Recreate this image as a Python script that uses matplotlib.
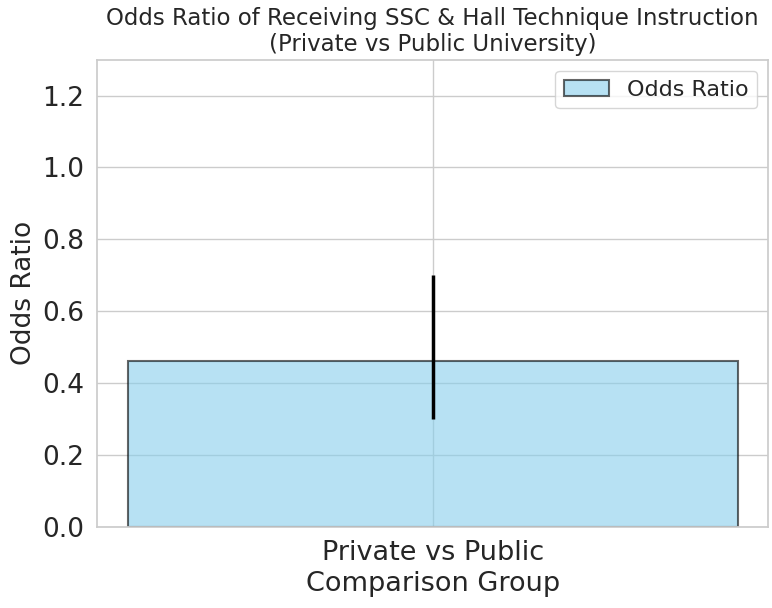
import matplotlib
matplotlib.use("Agg")
import matplotlib.pyplot as plt
import seaborn as sns

# data
groups = ["Private vs Public"]
odds_ratio = [0.46]
ci_low = [0.30]
ci_high = [0.70]

sns.set_theme(style="whitegrid")
plt.rcParams["font.family"] = ["DejaVu Sans"]

fig, ax = plt.subplots(figsize=(7.72, 6.08), dpi=100)
fig.subplots_adjust(left=0.126, right=0.995, top=0.902, bottom=0.134)

yerr = [[o - l for o, l in zip(odds_ratio, ci_low)],
        [h - o for o, h in zip(odds_ratio, ci_high)]]
ax.bar(groups, odds_ratio, color="skyblue", alpha=0.6, edgecolor="black",
       linewidth=1.5, label="Odds Ratio")
ax.errorbar(groups, odds_ratio, yerr=yerr, fmt="none", ecolor="black",
            elinewidth=2.5, capsize=0)

ax.set_ylim(0, 1.3)
ax.set_ylabel("Odds Ratio", fontsize=19)
ax.set_xlabel("Comparison Group", fontsize=19.5)
ax.tick_params(axis="both", labelsize=19)
ax.tick_params(axis="x", labelsize=19.5)
ax.set_title("Odds Ratio of Receiving SSC & Hall Technique Instruction\n"
             "(Private vs Public University)", fontsize=16.5)
ax.legend(fontsize=16, loc="upper right")

fig.savefig("out.png", dpi=100)
